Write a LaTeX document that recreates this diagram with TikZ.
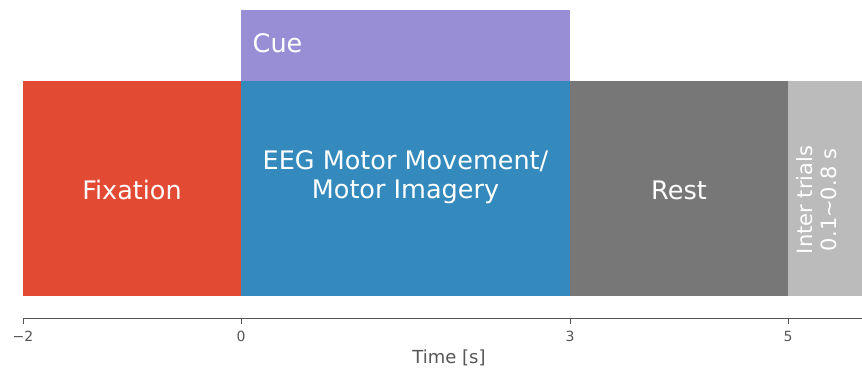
\documentclass[tikz,border=0pt]{standalone}
\usepackage{fontspec}
\setmainfont{DejaVu Sans}
\definecolor{fixred}{HTML}{E24A33}
\definecolor{eegblue}{HTML}{348ABD}
\definecolor{cuepurple}{HTML}{988ED5}
\definecolor{restgray}{HTML}{777777}
\definecolor{intergray}{HTML}{BBBBBB}
\definecolor{axisgray}{HTML}{555555}
\tikzset{
  phase/.style={rectangle, inner sep=0pt, outer sep=0pt, minimum height=215bp},
  phaselabel/.style={text=white, align=center, inner sep=0pt,
    font=\fontsize{25.5bp}{28.5bp}\selectfont},
  tickmark/.style={draw=axisgray, line width=0.8bp},
  ticklabel/.style={text=axisgray, font=\fontsize{14bp}{16bp}\selectfont, inner sep=0pt},
}
\begin{document}
\begin{tikzpicture}[x=1bp,y=-1bp]
\useasboundingbox (0,0) rectangle (862,372);
% trial phases
\node[phase, fill=fixred, minimum width=218bp] (fix) at (132,188.5) {};
\node[phase, fill=eegblue, minimum width=329bp] (eeg) at (405.5,188.5) {};
\node[phase, fill=restgray, minimum width=218bp] (rest) at (679,188.5) {};
\node[phase, fill=intergray, minimum width=74bp] (inter) at (825,188.5) {};
\node[phaselabel] (fixtext) at (132,190) {Fixation};
\node[phaselabel] (eegtext) at (405.5,177) {EEG Motor Movement/\\Motor Imagery};
\node[phaselabel] (resttext) at (679,190) {Rest};
\node[text=white, align=center, rotate=90, font=\fontsize{21bp}{24bp}\selectfont, inner sep=0pt]
  (intertext) at (817,200) {Inter trials\\0.1\textasciitilde 0.8 s};
% cue bar above the task phase
\node[phase, fill=cuepurple, minimum width=329bp, minimum height=71bp] (cue) at (405.5,45.5) {};
\node[phaselabel, anchor=west] (cuetext) at (252.5,43) {Cue};
% time axis
\coordinate (a0) at (23,318);
\coordinate (a1) at (862,318);
\draw[axisgray, line width=0.8bp] (a0) -- (a1);
\foreach \x/\lab [count=\i] in {23/−2, 241/0, 570/3, 788/5} {
  \coordinate (t\i) at (\x,318);
  \coordinate (b\i) at (\x,324);
  \draw[tickmark] (t\i) -- (b\i);
  \node[ticklabel, anchor=north] (l\i) at (\x,331) {\lab};
}
\node[text=axisgray, font=\fontsize{18bp}{20bp}\selectfont, inner sep=0pt] (xlabel) at (449,358) {Time [s]};
\end{tikzpicture}
\end{document}
